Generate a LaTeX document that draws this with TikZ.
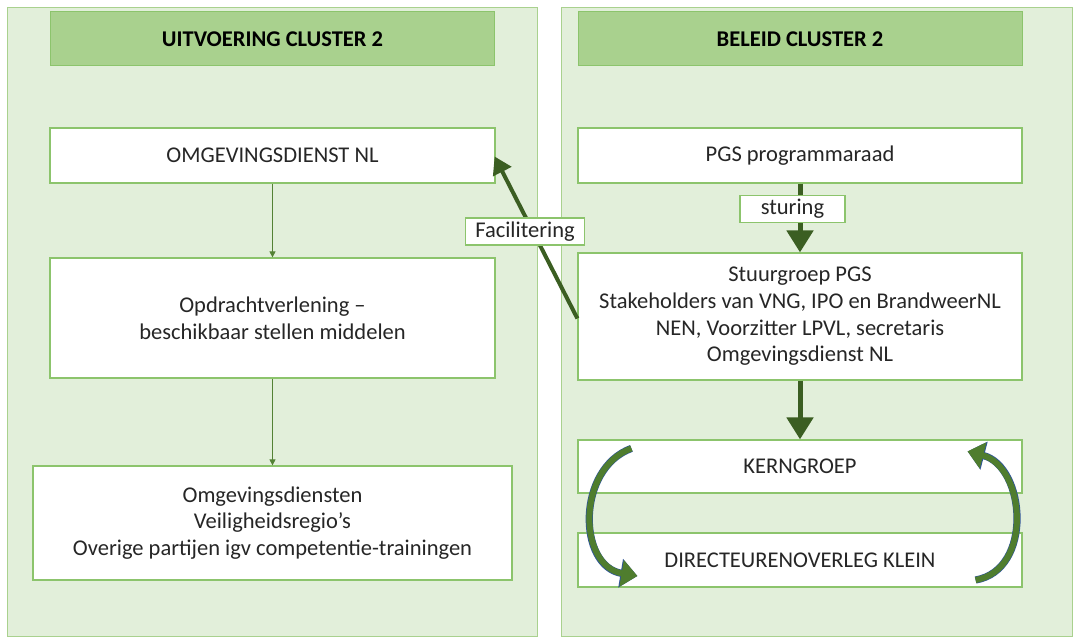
\documentclass[tikz,border=0pt]{standalone}
\usepackage{fontspec}
\setmainfont{Carlito}
\usepackage{xcolor}
\usetikzlibrary{arrows.meta}
\usetikzlibrary{calc}

\definecolor{panelgreen}{HTML}{E2EFDA}
\definecolor{headgreen}{HTML}{A9D18E}
\definecolor{linegreen}{HTML}{8CC46C}
\definecolor{darkgreen}{HTML}{3B5E22}
\definecolor{thingreen}{HTML}{548235}
\definecolor{loopgreen}{HTML}{4F7D2E}
\definecolor{outlineblue}{HTML}{2F5597}

\tikzset{
  panel/.style={draw=headgreen, fill=panelgreen, line width=0.8pt, minimum width=#1},
  header/.style={draw=linegreen, fill=headgreen, line width=1pt, minimum width=444pt, minimum height=54pt, font=\bfseries\fontsize{22.5}{27}\selectfont},
  box/.style={draw=linegreen, fill=white, line width=1.2pt, align=center, font=\fontsize{22.5}{26.7}\selectfont, text=black!85},
  tag/.style={draw=linegreen, fill=white, line width=1.2pt, font=\fontsize{22.5}{26}\selectfont, text=black!85, inner xsep=10pt, inner ysep=1pt, minimum height=27pt},
  thin arrow/.style={draw=thingreen, line width=0.8pt, -{Triangle[length=6pt,width=6pt]}},
  thick arrow/.style={draw=darkgreen, line width=5pt, -{Triangle[length=22pt,width=26pt]}},
  back arrow/.style={draw=darkgreen, line width=4pt, -{Triangle[length=17pt,width=20pt]}},
  loop arrow/.style={draw=loopgreen, line width=6pt, -{Triangle[length=16pt,width=26pt]},
    preaction={draw=outlineblue, line width=7.2pt, -{Triangle[length=17pt,width=28pt]}}}
}

\begin{document}
\begin{tikzpicture}[x=1pt,y=-1pt]
  \useasboundingbox (0,0) rectangle (1077,639);

  % two panels
  \node[panel=530pt, minimum height=629pt] (panelL) at (272,321.5) {};
  \node[panel=511pt, minimum height=629pt] (panelR) at (816.5,321.5) {};
  \node[header] (headL) at (272.5,39) {UITVOERING CLUSTER 2};
  \node[header] (headR) at (800,39) {BELEID CLUSTER 2};

  % uitvoering
  \node[box, minimum width=445pt, minimum height=55pt] (odnl) at (272.5,155.5) {OMGEVINGSDIENST NL};
  \node[box, minimum width=445pt, minimum height=120pt] (opdr) at (272.5,318)
    {Opdrachtverlening --\\beschikbaar stellen middelen};
  \node[box, minimum width=479pt, minimum height=114pt] (omgd) at (272.5,523)
    {Omgevingsdiensten\\Veiligheidsregio’s\\Overige partijen igv competentie-trainingen};

  % beleid
  \node[box, minimum width=444pt, minimum height=55pt] (pgs) at (800,155.5) {PGS programmaraad};
  \node[box, minimum width=444pt, minimum height=127pt] (stuur) at (800,316.5)
    {Stuurgroep PGS\\Stakeholders van VNG, IPO en BrandweerNL\\NEN, Voorzitter LPVL, secretaris\\Omgevingsdienst NL};
  \node[box, minimum width=444pt, minimum height=53pt] (kern) at (800,466.5) {KERNGROEP};
  \node[box, minimum width=444pt, minimum height=54pt] (dir) at (800,560) {DIRECTEURENOVERLEG KLEIN};

  \draw[thin arrow] (odnl) -- (opdr);
  \draw[thin arrow] (opdr) -- (omgd);
  \draw[thick arrow] (pgs) -- (stuur);
  \draw[thick arrow] (stuur) -- (kern);
  \draw[back arrow] ($(stuur.west)+(0,2)$) -- ($(odnl.east)+(-1,1)$);

  % loop between kerngroep and directeurenoverleg
  \draw[loop arrow] ($(kern.north west)+(54,9)$)
    .. controls +(-55,20) and +(-60,-10) .. ($(dir.west)+(60,16)$);
  \draw[loop arrow] ($(dir.east)+(-47,20)$)
    .. controls +(58,-10) and +(58,15) .. ($(kern.north east)+(-55,12)$);

  \node[tag, minimum width=105pt] (sturing) at (792.5,209) {sturing};
  \node[tag] (facil) at (525,231.5) {Facilitering};
\end{tikzpicture}
\end{document}
